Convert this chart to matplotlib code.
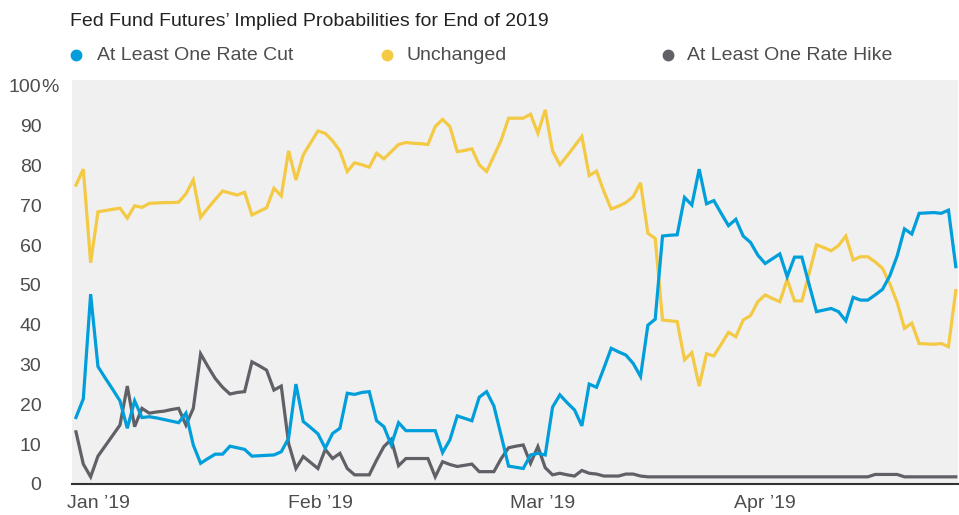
import numpy as np
import pandas as pd
import matplotlib
matplotlib.use("Agg")
import matplotlib.pyplot as plt
import matplotlib.transforms as mtransforms
from matplotlib.lines import Line2D

plt.rcParams['font.family'] = ['Liberation Sans', 'DejaVu Sans']

# daily readings, starting Jan 1 2019
start = "2019-01-01"

rate_cut = [
    16.7, 21.4, 47.7, 29.5, 26.6, 23.8, 20.9, 14.0, 20.9, 16.7,
    16.9, 16.6, 16.2, 15.8, 15.4, 17.8, 9.8, 5.2, 6.4, 7.5,
    7.5, 9.5, 9.1, 8.7, 7.0, 7.1, 7.2, 7.3, 8.1, 11.5,
    25.1, 15.7, 14.2, 12.6, 9.0, 12.7, 14.0, 22.8, 22.5, 23.0,
    23.2, 15.9, 14.4, 9.8, 15.4, 13.4, 13.4, 13.4, 13.4, 13.4,
    7.9, 11.1, 17.1, 16.5, 15.9, 21.8, 23.2, 19.6, 12.1, 4.5,
    4.2, 3.9, 7.3, 7.7, 7.3, 19.3, 22.4, 20.4, 18.6, 14.6,
    25.1, 24.3, 29.1, 34.1, 33.2, 32.4, 30.3, 27.0, 39.9, 41.4,
    62.3, 62.5, 62.6, 72.0, 70.1, 79.1, 70.4, 71.2, 68.0, 64.9,
    66.5, 62.3, 60.7, 57.5, 55.4, 56.6, 57.8, 52.1, 57.0, 57.0,
    50.1, 43.3, 43.7, 44.1, 43.3, 41.0, 46.9, 46.2, 46.2, 47.5,
    48.9, 52.3, 57.3, 64.1, 62.8, 68.0, 68.1, 68.2, 68.0, 68.8,
    54.6,
]

unchanged = [
    75.1, 79.1, 55.6, 68.4, 68.7, 69.0, 69.3, 66.8, 69.9, 69.5,
    70.5, 70.6, 70.7, 70.7, 70.8, 72.9, 76.4, 67.0, 69.3, 71.5,
    73.6, 73.1, 72.6, 73.3, 67.6, 68.5, 69.4, 74.3, 72.4, 83.7,
    76.4, 82.7, 85.7, 88.7, 88.1, 86.2, 83.7, 78.5, 80.7, 80.2,
    79.6, 83.1, 81.7, 83.5, 85.3, 85.8, 85.6, 85.5, 85.3, 89.8,
    91.6, 89.8, 83.5, 83.8, 84.2, 80.2, 78.5, 82.4, 86.4, 91.9,
    91.9, 91.9, 92.9, 88.1, 94.0, 83.7, 80.2, 82.5, 84.9, 87.3,
    77.5, 78.6, 73.5, 69.1, 69.8, 70.7, 72.2, 75.7, 63.0, 61.7,
    41.2, 41.0, 40.8, 31.2, 33.0, 24.6, 32.7, 32.2, 35.1, 38.1,
    37.0, 41.2, 42.3, 45.8, 47.5, 46.6, 45.8, 51.4, 46.0, 46.0,
    52.9, 60.1, 59.4, 58.6, 59.9, 62.3, 56.3, 57.1, 57.1, 55.8,
    54.2, 50.3, 45.6, 39.1, 40.4, 35.3, 35.2, 35.1, 35.3, 34.5,
    48.6,
]

rate_hike = [
    13.1, 5.0, 1.8, 7.0, 9.6, 12.2, 14.8, 24.6, 14.4, 19.0,
    17.8, 18.1, 18.3, 18.7, 19.0, 14.8, 19.0, 32.7, 29.5, 26.5,
    24.3, 22.6, 23.0, 23.2, 30.7, 29.7, 28.6, 23.6, 24.6, 10.2,
    3.9, 6.9, 5.4, 3.9, 8.7, 6.4, 7.7, 3.9, 2.3, 2.3,
    2.3, 6.0, 9.4, 11.2, 4.6, 6.4, 6.4, 6.4, 6.4, 1.8,
    5.6, 4.9, 4.4, 4.7, 5.0, 3.1, 3.1, 3.1, 6.4, 9.1,
    9.5, 9.8, 5.2, 9.4, 4.1, 2.3, 2.7, 2.3, 2.0, 3.4,
    2.7, 2.5, 2.0, 2.0, 2.0, 2.5, 2.5, 2.0, 1.8, 1.8,
    1.8, 1.8, 1.8, 1.8, 1.8, 1.8, 1.8, 1.8, 1.8, 1.8,
    1.8, 1.8, 1.8, 1.8, 1.8, 1.8, 1.8, 1.8, 1.8, 1.8,
    1.8, 1.8, 1.8, 1.8, 1.8, 1.8, 1.8, 1.8, 1.8, 2.4,
    2.4, 2.4, 2.4, 1.8, 1.8, 1.8, 1.8, 1.8, 1.8, 1.8,
    1.8,
]

tick_dates = ["2019-01-04 00:00", "2019-02-03 08:00", "2019-03-05 14:00", "2019-04-04 22:00"]
tick_labels = ["Jan \u201919", "Feb \u201919", "Mar \u201919", "Apr \u201919"]
y_ticks = list(range(0, 101, 10))

series_names = ["At Least One Rate Cut", "Unchanged", "At Least One Rate Hike"]
colors = ["#009EDB", "#F4C944", "#5F6167"]

dates = pd.date_range(start, periods=len(rate_cut), freq="D")

fig = plt.figure(figsize=(9.59, 5.15), dpi=100)
ax = fig.add_axes([72 / 959, 1 - 484 / 515, 886 / 959, 404 / 515])
ax.set_facecolor("#F0F0F0")

ax.plot(dates, rate_hike, color=colors[2], lw=2.3, solid_joinstyle="miter", zorder=3)
ax.plot(dates, unchanged, color=colors[1], lw=2.3, solid_joinstyle="miter", zorder=4)
ax.plot(dates, rate_cut, color=colors[0], lw=2.3, solid_joinstyle="miter", zorder=5)

ax.set_xlim(dates[0] - pd.Timedelta(hours=13), dates[0] + pd.Timedelta(days=120.3))
ax.set_ylim(0, 101.5)

for s in ["top", "right", "left"]:
    ax.spines[s].set_visible(False)
ax.spines["bottom"].set_color("#333333")
ax.spines["bottom"].set_linewidth(1.5)

ax.set_xticks(pd.to_datetime(tick_dates, format="%Y-%m-%d %H:%M"))
ax.set_xticklabels(tick_labels)
ax.set_yticks(y_ticks)
ax.set_yticklabels([str(v) for v in y_ticks])
ax.tick_params(axis="both", length=0, labelsize=14, labelcolor="#4D4D4F")
ax.tick_params(axis="x", pad=8)
ax.tick_params(axis="y", pad=22)
for lab in ax.get_yticklabels():
    lab.set_horizontalalignment("right")

# percent sign after the top label, on the same baseline
trans = mtransforms.blended_transform_factory(fig.transFigure, ax.transData)
ax.text(41 / 959, y_ticks[-1], "%", transform=trans, fontsize=14, color="#4D4D4F",
        ha="left", va="center_baseline", clip_on=False)

fig.text(70 / 959, 1 - 21 / 515, "Fed Fund Futures\u2019 Implied Probabilities for End of 2019",
         fontsize=14, color="#222222", ha="left", va="center")

legend_dots = [76, 387, 668]
legend_text = [97, 407, 687]
for name, c, dx, tx in zip(series_names, colors, legend_dots, legend_text):
    fig.add_artist(Line2D([dx / 959], [1 - 55 / 515], marker="o", markersize=7.5,
                          color=c, linestyle="none", transform=fig.transFigure))
    fig.text(tx / 959, 1 - 55 / 515, name, fontsize=14, color="#4D4D4F",
             ha="left", va="center")

fig.savefig("out.png", dpi=100)
